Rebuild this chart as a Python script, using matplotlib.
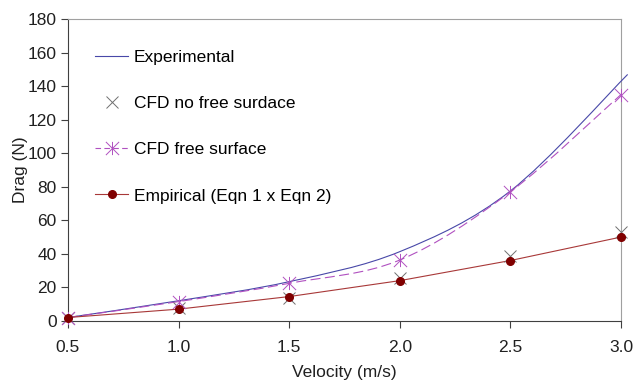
import numpy as np
import matplotlib
matplotlib.use("Agg")
import matplotlib.pyplot as plt
from matplotlib.path import Path
from matplotlib.patches import PathPatch
from matplotlib.lines import Line2D

velocity = [0.5, 1.0, 1.5, 2.0, 2.5, 3.0]
exp_velocity = [0.5, 1.0, 1.5, 2.0, 2.5, 3.03]
experimental = [2.0, 12.0, 23.4, 41.3, 77.5, 147.0]
cfd_no_fs = [2.0, 7.8, 13.5, 25.5, 38.5, 53.0]
cfd_fs = [2.0, 11.5, 22.4, 36.3, 77.0, 135.0]
empirical = [2.0, 7.0, 14.5, 24.0, 36.0, 50.0]

plt.rcParams['font.family'] = ['Liberation Sans', 'DejaVu Sans']
FS = 12.5


def smooth_path(x, y):
    # excel-like smoothed line: catmull-rom converted to cubic bezier
    p = np.column_stack([x, y]).astype(float)
    ext = np.vstack([p[0], p, p[-1]])
    verts = [p[0]]
    codes = [Path.MOVETO]
    for i in range(1, len(ext) - 2):
        p0, p1, p2, p3 = ext[i - 1], ext[i], ext[i + 1], ext[i + 2]
        verts += [p1 + (p2 - p0) / 6, p2 - (p3 - p1) / 6, p2]
        codes += [Path.CURVE4] * 3
    return Path(verts, codes)


star = Path([(-1, -1), (1, 1), (-1, 1), (1, -1), (0, -1), (0, 1)],
            [Path.MOVETO, Path.LINETO, Path.MOVETO, Path.LINETO, Path.MOVETO, Path.LINETO])

c_exp = '#4848a8'
c_nofs = '#707070'
c_fs = '#b050c0'
c_emp = '#800000'
c_emp_line = '#a83838'

fig = plt.figure(figsize=(6.35, 3.82), dpi=100)
ax = fig.add_axes([0.107, 0.160, 0.871, 0.790])

ax.add_patch(PathPatch(smooth_path(exp_velocity, experimental), facecolor='none',
                       edgecolor=c_exp, lw=0.8, clip_on=False, zorder=3))
ax.add_patch(PathPatch(smooth_path(velocity, cfd_fs), facecolor='none',
                       edgecolor=c_fs, lw=0.8, linestyle=(0, (9, 4)), zorder=3))
ax.plot(velocity, empirical, color=c_emp_line, lw=0.8, zorder=3)

ax.plot(velocity, cfd_no_fs, ls='none', marker='x', ms=9, mew=0.7, color=c_nofs,
        clip_on=False, zorder=4)
ax.plot(velocity, cfd_fs, ls='none', marker=star, ms=9.5, mew=0.7, mfc='none',
        color=c_fs, clip_on=False, zorder=5)
ax.plot(velocity, empirical, ls='none', marker='o', ms=5.5, color=c_emp,
        clip_on=False, zorder=6)

handles = [
    Line2D([], [], color=c_exp, lw=0.8),
    Line2D([], [], ls='none', marker='x', ms=9, mew=0.7, color=c_nofs),
    Line2D([], [], color=c_fs, lw=0.8, ls=(0, (5, 3)), marker=star, ms=9.5, mew=0.7, mfc='none'),
    Line2D([], [], color=c_emp_line, lw=0.8, marker='o', ms=5.5, mfc=c_emp, mec=c_emp),
]
labels = ['Experimental', 'CFD no free surdace', 'CFD free surface', 'Empirical (Eqn 1 x Eqn 2)']
ax.legend(handles, labels, loc='upper left', bbox_to_anchor=(0.049, 0.897), frameon=False,
          fontsize=FS, labelspacing=1.78, handlelength=1.9, handletextpad=0.35,
          borderaxespad=0, borderpad=0)

ax.set_xlim(0.5, 3.0)
ax.set_ylim(0, 180)
ax.set_xticks(velocity)
ax.set_xticklabels([f'{v:.1f}' for v in velocity])
ax.set_yticks(range(0, 181, 20))
ax.tick_params(direction='out', length=5, width=0.8, color='#404040',
               labelsize=FS, labelcolor='#202020')
ax.tick_params(axis='x', pad=9)
ax.tick_params(axis='y', pad=3)
for s in ['left', 'bottom']:
    ax.spines[s].set_color('#404040')
    ax.spines[s].set_linewidth(0.8)
for s in ['top', 'right']:
    ax.spines[s].set_color('#a0a0a0')
    ax.spines[s].set_linewidth(0.8)

ax.set_xlabel('Velocity (m/s)', fontsize=FS, labelpad=7, color='#202020')
ax.set_ylabel('Drag (N)', fontsize=FS, labelpad=0, color='#202020')

fig.savefig('out.png', dpi=100)
